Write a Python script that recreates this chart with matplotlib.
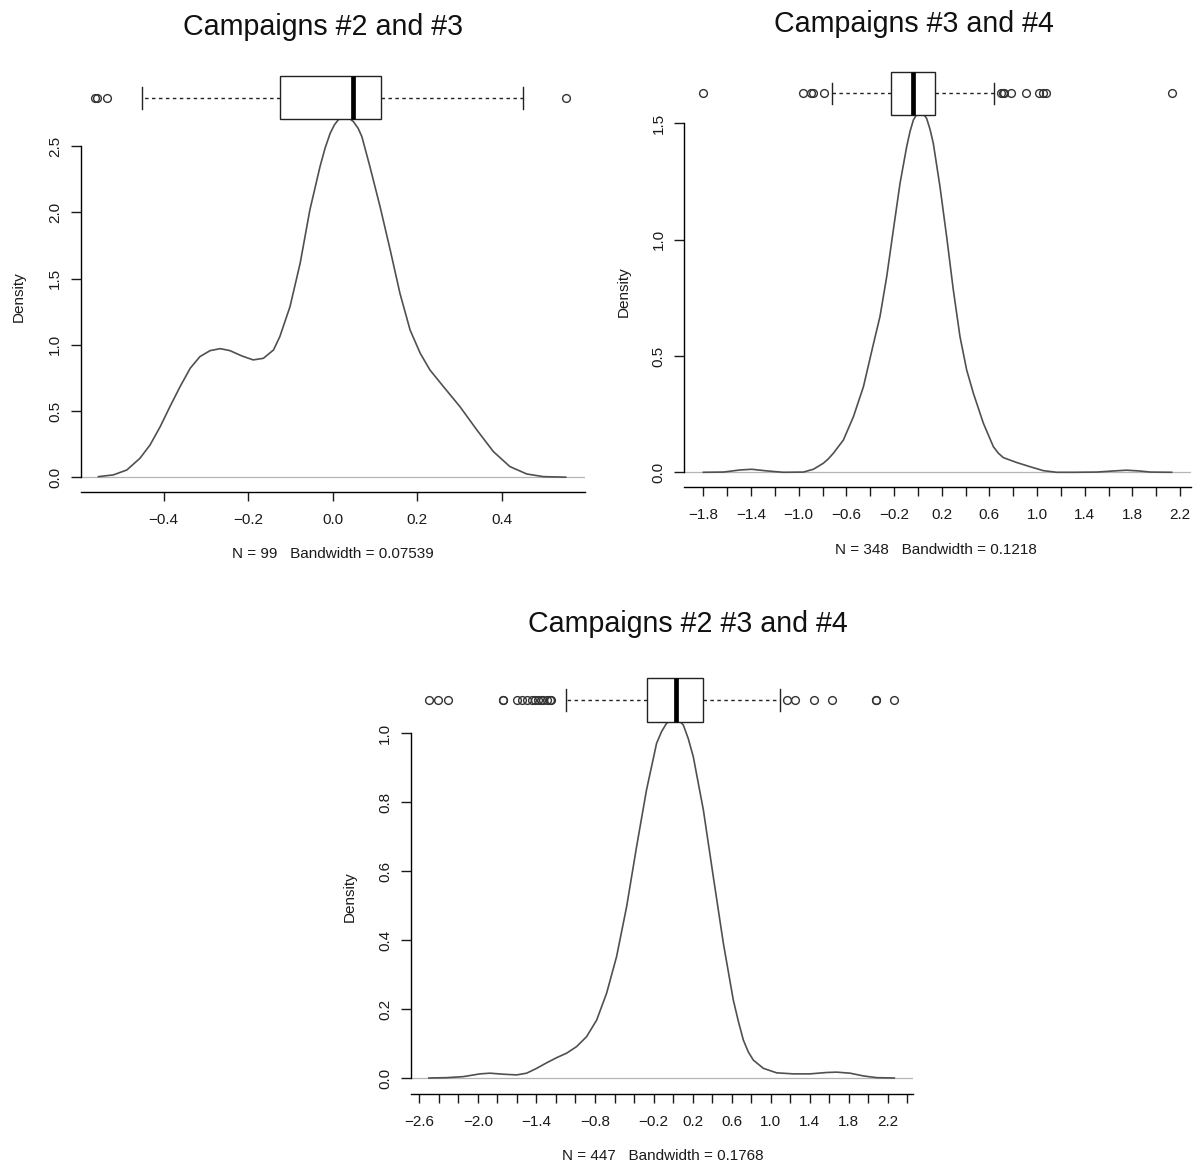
import numpy as np
import matplotlib
matplotlib.use('Agg')
import matplotlib.pyplot as plt

plt.rcParams['font.family'] = ['Liberation Sans', 'DejaVu Sans']

W, H = 1198, 1164
MINUS = '\u2212'

# ---- Campaigns #2 and #3 ----
p1_title = 'Campaigns #2 and #3'
p1_note = 'N = 99   Bandwidth = 0.07539'
p1_x = [-0.554, -0.519, -0.487, -0.456, -0.432, -0.408, -0.385, -0.361, -0.337, -0.314,
        -0.290, -0.266, -0.243, -0.215, -0.188, -0.164, -0.140, -0.125, -0.101, -0.077,
        -0.054, -0.030, -0.018, -0.006, 0.004, 0.013, 0.021, 0.029, 0.037, 0.049, 0.060,
        0.069, 0.088, 0.112, 0.136, 0.159, 0.183, 0.207, 0.230, 0.262, 0.301, 0.341,
        0.380, 0.419, 0.459, 0.498, 0.551]
p1_y = [0.005, 0.018, 0.055, 0.143, 0.244, 0.382, 0.533, 0.684, 0.823, 0.911,
        0.956, 0.971, 0.956, 0.916, 0.886, 0.898, 0.961, 1.062, 1.288, 1.615,
        2.018, 2.345, 2.485, 2.596, 2.660, 2.697, 2.716, 2.722, 2.716, 2.684, 2.635,
        2.571, 2.345, 2.043, 1.716, 1.389, 1.112, 0.936, 0.810, 0.684, 0.533, 0.357,
        0.194, 0.081, 0.025, 0.005, 0.001]
p1_stats = dict(whislo=-0.450, q1=-0.1246, med=0.0487, q3=0.115, whishi=0.4507)
p1_fliers = [-0.561, -0.558, -0.533, 0.551]
p1_xticks = [-0.4, -0.2, 0.0, 0.2, 0.4]
p1_xlabeled = [-0.4, -0.2, 0.0, 0.2, 0.4]
p1_yticks = [0.0, 0.5, 1.0, 1.5, 2.0, 2.5]

# ---- Campaigns #3 and #4 ----
p2_title = 'Campaigns #3 and #4'
p2_note = 'N = 348   Bandwidth = 0.1218'
p2_x = [-1.80, -1.632, -1.492, -1.394, -1.268, -1.129, -0.961, -0.877, -0.793, -0.751,
        -0.709, -0.625, -0.541, -0.457, -0.374, -0.318, -0.262, -0.206, -0.150, -0.094,
        -0.066, -0.038, -0.010, 0.018, 0.045, 0.073, 0.101, 0.129, 0.185, 0.241,
        0.297, 0.353, 0.409, 0.465, 0.549, 0.633, 0.675, 0.717, 0.829, 0.941,
        1.053, 1.165, 1.305, 1.50, 1.65, 1.75, 1.85, 1.95, 2.129]
p2_y = [0.0, 0.001, 0.010, 0.013, 0.006, 0.0, 0.001, 0.013, 0.039, 0.058,
        0.082, 0.139, 0.239, 0.368, 0.55, 0.67, 0.84, 1.042, 1.242, 1.400,
        1.465, 1.514, 1.538, 1.546, 1.540, 1.521, 1.475, 1.414, 1.228, 1.013,
        0.784, 0.583, 0.440, 0.340, 0.211, 0.110, 0.082, 0.063, 0.042, 0.024,
        0.007, 0.0, 0.0, 0.001, 0.006, 0.009, 0.006, 0.001, 0.0]
p2_stats = dict(whislo=-0.721, q1=-0.226, med=-0.038, q3=0.1435, whishi=0.638)
p2_fliers = [-1.80, -0.961, -0.899, -0.883, -0.785, 0.697, 0.711, 0.725, 0.781,
             0.907, 1.013, 1.052, 1.075, 2.129]
p2_xticks = [-1.8, -1.6, -1.4, -1.2, -1.0, -0.8, -0.6, -0.4, -0.2, 0.0, 0.2,
             0.4, 0.6, 0.8, 1.0, 1.2, 1.4, 1.6, 1.8, 2.0, 2.2]
p2_xlabeled = [-1.8, -1.4, -1.0, -0.6, -0.2, 0.2, 0.6, 1.0, 1.4, 1.8, 2.2]
p2_yticks = [0.0, 0.5, 1.0, 1.5]

# ---- Campaigns #2 #3 and #4 ----
p3_title = 'Campaigns #2 #3 and #4'
p3_note = 'N = 447   Bandwidth = 0.1768'
p3_x = [-2.501, -2.320, -2.149, -1.978, -1.876, -1.739, -1.603, -1.500, -1.398, -1.296,
        -1.193, -1.091, -0.989, -0.886, -0.783, -0.681, -0.579, -0.476, -0.374, -0.272,
        -0.169, -0.118, -0.067, -0.020, 0.026, 0.065, 0.105, 0.155, 0.207, 0.310,
        0.412, 0.515, 0.617, 0.670, 0.720, 0.770, 0.822, 0.925, 1.061, 1.232,
        1.403, 1.574, 1.676, 1.813, 1.950, 2.086, 2.266]
p3_y = [0.0, 0.001, 0.004, 0.012, 0.014, 0.011, 0.009, 0.014, 0.028, 0.044,
        0.059, 0.072, 0.091, 0.120, 0.168, 0.246, 0.352, 0.497, 0.671, 0.836,
        0.971, 1.005, 1.029, 1.038, 1.041, 1.036, 1.024, 0.985, 0.932, 0.778,
        0.584, 0.391, 0.226, 0.163, 0.110, 0.076, 0.052, 0.028, 0.015, 0.012,
        0.012, 0.016, 0.017, 0.014, 0.006, 0.001, 0.0]
p3_stats = dict(whislo=-1.097, q1=-0.271, med=0.027, q3=0.303, whishi=1.095)
p3_fliers = [-2.501, -2.405, -2.309, -1.742, -1.738, -1.602, -1.551, -1.500, -1.449,
             -1.415, -1.381, -1.356, -1.329, -1.295, -1.256, -1.252,
             1.170, 1.249, 1.444, 1.625, 2.074, 2.078, 2.266]
p3_xticks = [-2.6, -2.4, -2.2, -2.0, -1.8, -1.6, -1.4, -1.2, -1.0, -0.8, -0.6, -0.4, -0.2,
             0.0, 0.2, 0.4, 0.6, 0.8, 1.0, 1.2, 1.4, 1.6, 1.8, 2.0, 2.2, 2.4]
p3_xlabeled = [-2.6, -2.0, -1.4, -0.8, -0.2, 0.2, 0.6, 1.0, 1.4, 1.8, 2.2]
p3_yticks = [0.0, 0.2, 0.4, 0.6, 0.8, 1.0]


def fmt(v):
    return f'{v:.1f}'.replace('-', MINUS)


def px_text(fig, x, y, s, **kw):
    fig.text(x / W, 1 - y / H, s, **kw)


def draw_panel(fig, rect, xlim, ylim, box_y, box_h, cx, cy, stats, fliers,
               xticks, xlabeled, yticks):
    left, top, right, bottom = rect
    ax = fig.add_axes([left / W, 1 - bottom / H, (right - left) / W, (bottom - top) / H])
    ax.set_xlim(*xlim)
    ax.set_ylim(*ylim)

    ax.axhline(0, color='#b5b5b5', lw=0.9, zorder=1)
    ax.plot(cx, cy, color='#505050', lw=1.2, zorder=2, solid_joinstyle='round')

    st = dict(stats)
    st['fliers'] = fliers
    ax.bxp([st], positions=[box_y], widths=[box_h], orientation='horizontal',
           manage_ticks=False, showfliers=True, patch_artist=True,
           boxprops=dict(facecolor='white', edgecolor='#222222', lw=1.0),
           medianprops=dict(color='black', lw=3.4, solid_capstyle='butt'),
           whiskerprops=dict(color='#222222', lw=1.0, linestyle=(0, (2.5, 2.5))),
           capprops=dict(color='#222222', lw=1.0),
           flierprops=dict(marker='o', markerfacecolor='none', markeredgecolor='#333333',
                           markersize=5.6, markeredgewidth=1.0))

    for side in ('top', 'right'):
        ax.spines[side].set_visible(False)
    ax.spines['left'].set_bounds(yticks[0], yticks[-1])
    ax.spines['left'].set_linewidth(1.0)
    ax.spines['bottom'].set_linewidth(1.0)

    ax.set_xticks(xticks)
    ax.set_xticklabels([fmt(t) if t in xlabeled else '' for t in xticks])
    ax.set_yticks(yticks)
    ax.set_yticklabels([fmt(t) for t in yticks])
    ax.tick_params(axis='x', length=6.3, width=1.0, pad=9, labelsize=11, colors='#1a1a1a')
    ax.tick_params(axis='y', length=7.0, width=1.0, pad=6.5, labelsize=11, colors='#1a1a1a')
    for lbl in ax.get_yticklabels():
        lbl.set_rotation(90)
        lbl.set_va('center')
    ax.patch.set_alpha(0)
    return ax


fig = plt.figure(figsize=(W / 100, H / 100), dpi=100)

panels = [
    dict(rect=(80.7, 70, 584.7, 491.7), xlim=(-0.596, 0.596), ylim=(-0.1087, 3.074),
         box_y=2.865, box_h=0.327, cx=p1_x, cy=p1_y, stats=p1_stats, fliers=p1_fliers,
         xticks=p1_xticks, xlabeled=p1_xlabeled, yticks=p1_yticks,
         title=p1_title, title_xy=(323.3, 35), note=p1_note, note_xy=(332.7, 553.5),
         ylab_xy=(19, 297)),
    dict(rect=(684.3, 60, 1190.5, 486.7), xlim=(-1.96, 2.287), ylim=(-0.0619, 1.7718),
         box_y=1.629, box_h=0.1835, cx=p2_x, cy=p2_y, stats=p2_stats, fliers=p2_fliers,
         xticks=p2_xticks, xlabeled=p2_xlabeled, yticks=p2_yticks,
         title=p2_title, title_xy=(914.2, 31.7), note=p2_note, note_xy=(936.3, 549.5),
         ylab_xy=(624, 291.7)),
    dict(rect=(411, 670, 913.3, 1094), xlim=(-2.685, 2.461), ylim=(-0.0464, 1.1837),
         box_y=1.0966, box_h=0.126, cx=p3_x, cy=p3_y, stats=p3_stats, fliers=p3_fliers,
         xticks=p3_xticks, xlabeled=p3_xlabeled, yticks=p3_yticks,
         title=p3_title, title_xy=(688.3, 631.7), note=p3_note, note_xy=(662.8, 1156.5),
         ylab_xy=(349.6, 896.7)),
]

for p in panels:
    draw_panel(fig, p['rect'], p['xlim'], p['ylim'], p['box_y'], p['box_h'],
               p['cx'], p['cy'], p['stats'], p['fliers'],
               p['xticks'], p['xlabeled'], p['yticks'])
    px_text(fig, *p['title_xy'], p['title'], ha='center', va='baseline',
            fontsize=20.6, color='#111111')
    px_text(fig, *p['note_xy'], p['note'], ha='center', va='center',
            fontsize=11, color='#1a1a1a')
    px_text(fig, *p['ylab_xy'], 'Density', ha='center', va='center', rotation=90,
            fontsize=11, color='#1a1a1a')

fig.savefig('out.png', dpi=100, facecolor='white')
